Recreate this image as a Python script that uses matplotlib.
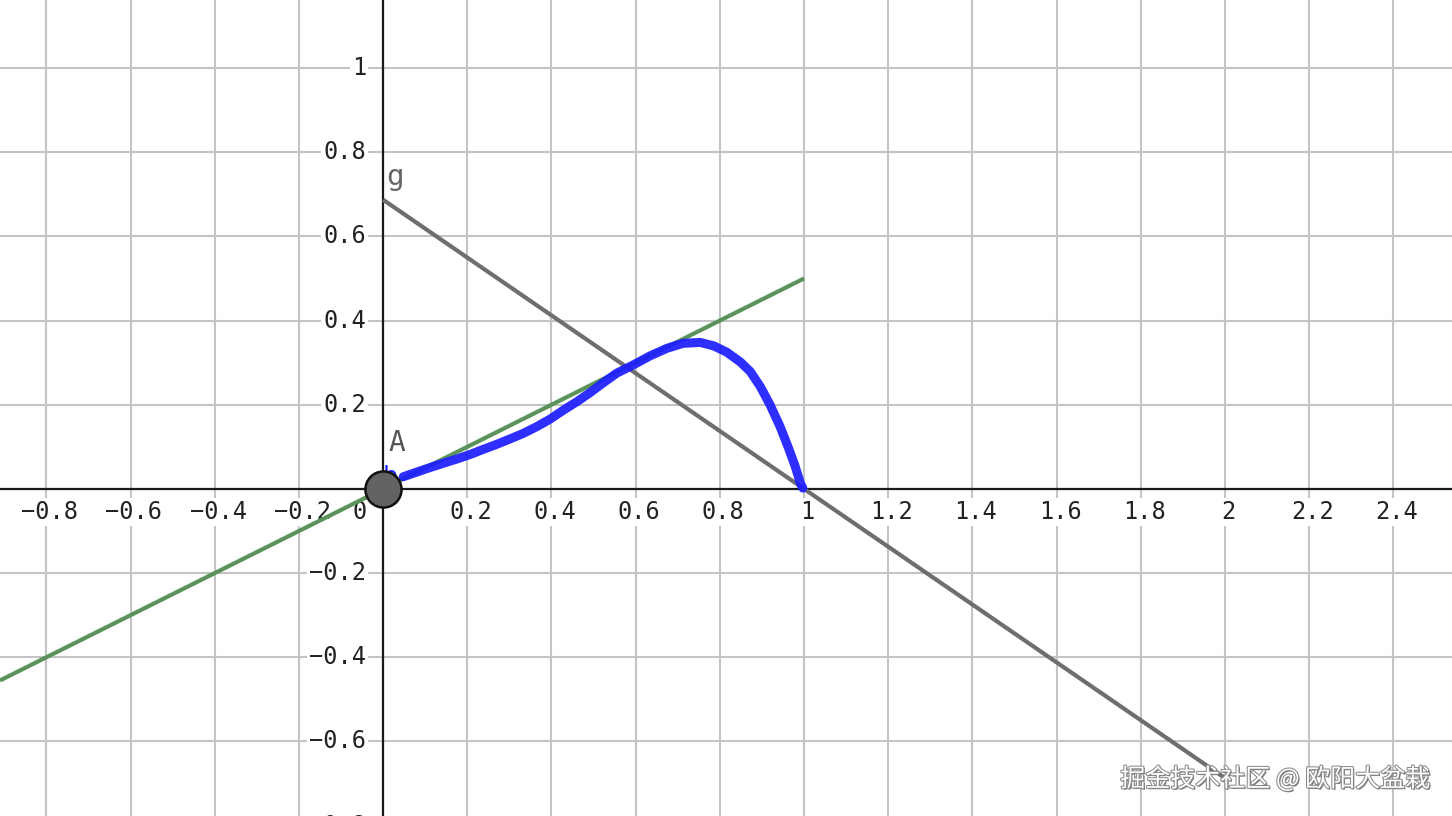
import numpy as np
import matplotlib.pyplot as plt
import matplotlib.patheffects as pe

# view window (GeoGebra-like graphics view)
x_min, x_max = -0.91, 2.539
y_min, y_max = -0.777, 1.1615

# tick labels
x_ticks = [-0.8, -0.6, -0.4, -0.2, 0.2, 0.4, 0.6, 0.8, 1, 1.2, 1.4, 1.6, 1.8, 2, 2.2, 2.4]
y_ticks = [1, 0.8, 0.6, 0.4, 0.2, -0.2, -0.4, -0.6, -0.8]

# green tangent line
green_x = [-0.91, 1.0]
green_y = [-0.455, 0.5]

# gray line g
g_x = [0.0, 2.0]
g_y = [0.687, -0.687]

# blue curve
curve_x = [0.048, 0.080, 0.112, 0.143, 0.175, 0.207, 0.238, 0.270, 0.302,
           0.333, 0.365, 0.397, 0.428, 0.460, 0.492, 0.520, 0.555, 0.595,
           0.634, 0.674, 0.713, 0.753, 0.785, 0.816, 0.848, 0.872, 0.896,
           0.919, 0.943, 0.963, 0.979, 0.991, 0.997]
curve_y = [0.029, 0.040, 0.051, 0.061, 0.071, 0.082, 0.094, 0.106, 0.119,
           0.132, 0.148, 0.166, 0.187, 0.207, 0.229, 0.250, 0.275, 0.295,
           0.316, 0.334, 0.346, 0.348, 0.340, 0.325, 0.302, 0.279, 0.243,
           0.200, 0.148, 0.097, 0.053, 0.014, 0.002]

point_A = (0.0, 0.0)

fig = plt.figure(figsize=(14.52, 8.16), dpi=100)
ax = fig.add_axes([0, 0, 1, 1])
ax.set_xlim(x_min, x_max)
ax.set_ylim(y_min, y_max)
ax.set_axis_off()

# grid
grid_c = '#c4c4c4'
for gx in np.arange(-0.8, 2.6, 0.2):
    ax.axvline(gx, color=grid_c, lw=1.5, zorder=0)
for gy in np.arange(-0.8, 1.2, 0.2):
    ax.axhline(gy, color=grid_c, lw=1.5, zorder=0)

# tick labels with white boxes
mono = 'DejaVu Sans Mono'
box = dict(facecolor='white', edgecolor='none', pad=1.5)
for t in x_ticks:
    lab = f'{t:g}'.replace('-', '\u2212')
    ax.text(t + 0.008, -0.055, lab, ha='center', va='center', fontsize=17,
            family=mono, color='#222222', bbox=box, zorder=2)
ax.text(-0.055, -0.055, '0', ha='center', va='center', fontsize=17,
        family=mono, color='#222222', bbox=box, zorder=2)
for t in y_ticks:
    lab = f'{t:g}'.replace('-', '\u2212')
    ax.text(-0.04, t, lab, ha='right', va='center', fontsize=17,
            family=mono, color='#222222', bbox=box, zorder=2)

# axes
ax.axhline(0, color='#1a1a1a', lw=1.6, zorder=3)
ax.axvline(0, color='#1a1a1a', lw=1.6, zorder=3)

# lines
ax.plot(green_x, green_y, color='#5b935b', lw=3, solid_capstyle='butt', zorder=4)
ax.plot(g_x, g_y, color='#6e6e6e', lw=3, solid_capstyle='butt', zorder=4)
ax.plot(curve_x, curve_y, color='#1c1cff', lw=6.5, alpha=0.92,
        solid_capstyle='round', solid_joinstyle='round', zorder=5)

# labels
ax.text(0.007, 0.74, 'g', fontsize=21, family=mono, color='#666666',
        ha='left', va='center', zorder=6)
ax.text(0.014, 0.11, 'A', fontsize=20, family=mono, color='#555555',
        ha='left', va='center', zorder=6)
ax.text(-0.002, 0.0, 'b', fontsize=18, family=mono, color='#1c1cff',
        ha='left', va='bottom', zorder=6)

# point A
ax.plot(*point_A, 'o', ms=26, mfc='#636363', mec='#111111', mew=1.8, zorder=7)

# watermark
fig.text(0.985, 0.045, '掘金技术社区 @ 欧阳大盆栽', ha='right', va='center',
         fontsize=18, family=['Noto Sans CJK SC', 'DejaVu Sans'], color='white',
         path_effects=[pe.withSimplePatchShadow(offset=(1, -1), shadow_rgbFace='#555555', alpha=0.8),
                       pe.withStroke(linewidth=1.5, foreground='#8a8a8a')], zorder=10)

fig.savefig('out.png', dpi=100)
